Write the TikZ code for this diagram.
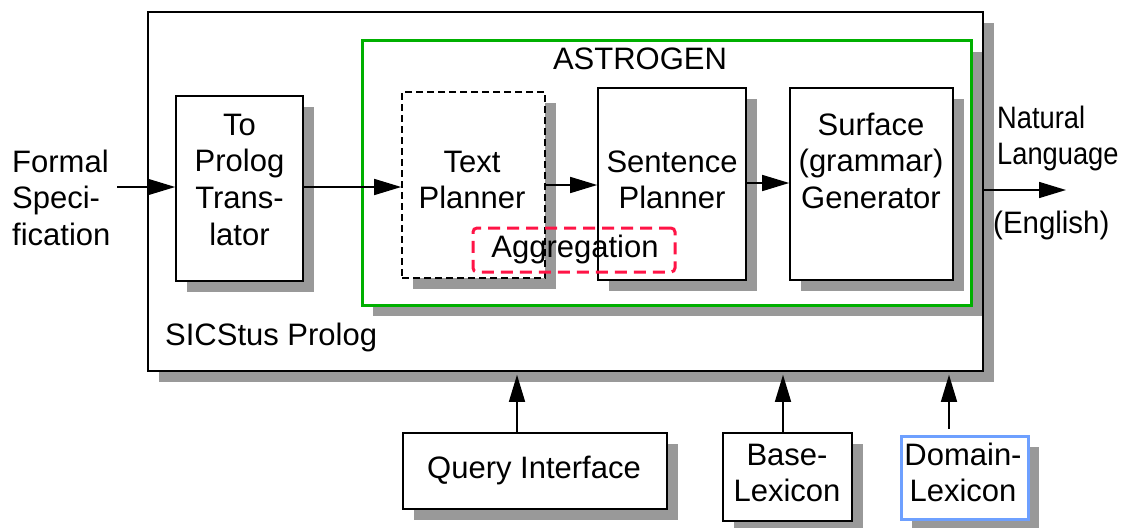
\documentclass[tikz,border=0pt]{standalone}
\usepackage{fontspec}
\usepackage{graphicx}
\setmainfont{Liberation Sans}
\usetikzlibrary{arrows.meta,shadows}
\definecolor{shadowgray}{RGB}{153,153,153}
\definecolor{astrogreen}{RGB}{0,176,0}
\definecolor{aggred}{RGB}{255,20,70}
\definecolor{domblue}{RGB}{110,160,255}
\newcommand{\mlc}[1]{\begin{tabular}[t]{@{}c@{}}#1\end{tabular}}
\newcommand{\mll}[1]{\begin{tabular}[t]{@{}l@{}}#1\end{tabular}}
\begin{document}
\begin{tikzpicture}[x=1pt,y=-1pt,
  every node/.style={font=\fontsize{31}{36.7}\selectfont},
  shad/.style={general shadow={fill=shadowgray, shadow xshift=11pt, shadow yshift=-11pt}},
  box/.style={draw=black, line width=1.6pt, fill=white, inner sep=0pt, shad},
  dashbox/.style={box, dash pattern=on 7pt off 4pt},
  aggbox/.style={draw=aggred, line width=3pt, dash pattern=on 12pt off 7pt, rounded corners=4pt, inner sep=0pt},
  greenbox/.style={box, draw=astrogreen, line width=3pt},
  bluebox/.style={box, draw=domblue, line width=3pt},
  txt/.style={inner sep=0pt, anchor=base},
  txtl/.style={inner sep=0pt, anchor=base west},
  arr/.style={line width=1.5pt, -{Triangle[length=27pt,width=16pt]}}
]
\useasboundingbox (0,0) rectangle (1131,527);

% containers
\node[box, minimum width=835pt, minimum height=359pt] (outer) at (565.5,191.5) {};
\node[greenbox, minimum width=609pt, minimum height=264pt] (astro) at (666.5,173) {};

% inner boxes
\node[box, minimum width=127pt, minimum height=185pt] (toprolog) at (239.5,188.5) {};
\node[dashbox, minimum width=143pt, minimum height=186pt] (textpl) at (473.5,185) {};
\node[box, minimum width=148pt, minimum height=192pt] (sentpl) at (672,184) {};
\node[box, minimum width=163pt, minimum height=192pt] (surface) at (871.5,184) {};
\node[aggbox, minimum width=202pt, minimum height=44pt] (aggr) at (574,250) {};

% bottom boxes
\node[box, minimum width=264pt, minimum height=76pt] (query) at (535,471) {};
\node[box, minimum width=129pt, minimum height=88pt] (base) at (787.5,477) {};
\node[bluebox, minimum width=127pt, minimum height=83pt] (domain) at (964.5,477.5) {};

% texts
\node[txtl] (formal) at (12,172) {\mll{Formal\\Speci-\\fication}};
\node[txt] (toprologt) at (239.5,135) {\mlc{To\\Prolog\\Trans-\\lator}};
\node[txt] (textplt) at (472,172) {\mlc{Text\\Planner}};
\node[txt] (sentplt) at (672,172) {\mlc{Sentence\\Planner}};
\node[txt] (surfacet) at (871,135) {\mlc{Surface\\(grammar)\\Generator}};
\node[txt] (astrot) at (640,70) {ASTROGEN};
\node[txt] (aggrt) at (575,257) {Aggregation};
\node[txtl] (sicstus) at (165,345) {SICStus Prolog};
\node[txtl] (natlang) at (997,128) {\scalebox{0.88}[1]{\mll{Natural\\Language}}};
\node[txtl] (english) at (993,233) {\scalebox{0.95}[1]{(English)}};
\node[txt] (queryt) at (534,478) {Query Interface};
\node[txt] (baset) at (787,465) {\mlc{Base-\\Lexicon}};
\node[txt] (domaint) at (963,465) {\mlc{Domain-\\Lexicon}};

% connector coordinates
\coordinate (fsin) at (117,187);
\coordinate (nlout) at (1066,190);
\coordinate (qx) at (517,0);
\coordinate (bx) at (783,0);
\coordinate (dx) at (949,0);

% connectors
\draw[arr] (fsin) -- (toprolog.west |- fsin);
\draw[arr] (toprolog.east |- fsin) -- (textpl.west |- fsin);
\draw[arr] (textpl.east) -- (sentpl.west |- textpl.east);
\draw[arr] (sentpl.east |- 0,183) -- (surface.west |- 0,183);
\draw[arr] (outer.east |- nlout) -- (nlout);
\draw[arr, shorten >=3pt] (query.north -| qx) -- (outer.south -| qx);
\draw[arr, shorten >=3pt] (base.north -| bx) -- (outer.south -| bx);
\draw[arr, shorten >=3pt, shorten <=6pt] (domain.north -| dx) -- (outer.south -| dx);
\end{tikzpicture}
\end{document}
